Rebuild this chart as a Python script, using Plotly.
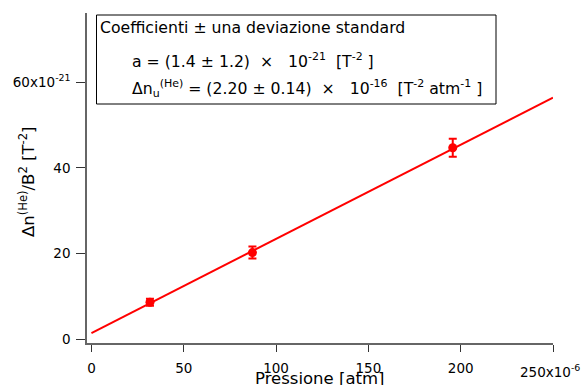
import plotly.graph_objects as go

# Data (x in 1e-6 atm, y in 1e-21 T^-2)
pressure = [31.7, 87.2, 195.7]
dn_over_B2 = [8.6, 20.2, 44.7]
dn_err = [0.8, 1.4, 2.1]

# Fit coefficients (from the legend box): y = a + b*x
fit_a = 1.4        # 1e-21 T^-2
fit_b = 0.220      # 1e-21 T^-2 per 1e-6 atm  (2.20e-16 T^-2 atm^-1)
fit_x = [0, 250]
fit_y = [fit_a + fit_b * x for x in fit_x]

x_tickvals = [0, 50, 100, 150, 200, 250]
x_ticktext = ["0", "50", "100", "150", "200", ""]
y_tickvals = [0, 20, 40, 60]
y_ticktext = ["0", "20", "40", "60x10<sup>-21</sup>"]

box_lines = [
    "Coefficienti ± una deviazione standard",
    "a = (1.4 ± 1.2)  ×   10<sup>-21</sup>  [T<sup>-2</sup> ]",
    "Δn<sub>u</sub><sup>(He)</sup> = (2.20 ± 0.14)  ×   10<sup>-16</sup>  [T<sup>-2</sup> atm<sup>-1</sup> ]",
]

FONT = "DejaVu Sans"
W, H = 583, 385
ML, MR, MT, MB = 87, 30, 13, 42
PW, PH = W - ML - MR, H - MT - MB


def px(x):
    return (x - ML) / PW


def py(y):
    return (H - MB - y) / PH


fig = go.Figure()
fig.add_trace(go.Scatter(x=fit_x, y=fit_y, mode="lines",
                         line=dict(color="#ff0000", width=2), showlegend=False))
fig.add_trace(go.Scatter(x=pressure, y=dn_over_B2, mode="markers",
                         marker=dict(color="#ff0000", size=9),
                         error_y=dict(type="data", array=dn_err, color="#ff0000",
                                      thickness=2, width=4),
                         showlegend=False))

fig.update_layout(
    template="none",
    width=W, height=H,
    margin=dict(l=ML, r=MR, t=MT, b=MB, pad=0),
    paper_bgcolor="white", plot_bgcolor="white",
    font=dict(family=FONT, size=13.5, color="black"),
    xaxis=dict(range=[-2.4, 250], tickvals=x_tickvals, ticktext=x_ticktext,
               showgrid=False, zeroline=False, showline=True, linecolor="#666666",
               linewidth=1.5, ticks="outside", ticklen=7, tickcolor="#333333",
               tickwidth=1, tickfont=dict(size=13.5), automargin=False,
               ticklabelstandoff=5),
    yaxis=dict(range=[-0.93, 76.2], tickvals=y_tickvals, ticktext=y_ticktext,
               showgrid=False, zeroline=False, showline=True, linecolor="#666666",
               linewidth=1.5, ticks="outside", ticklen=9, tickcolor="#333333",
               tickwidth=1, tickfont=dict(size=13.5), automargin=False,
               ticklabelstandoff=3),
)

# axis titles
fig.add_annotation(xref="paper", yref="paper", x=px(320), y=py(367),
                   xanchor="center", yanchor="top", showarrow=False,
                   text="Pressione [atm]", font=dict(size=16.5, family=FONT))
fig.add_annotation(xref="paper", yref="paper", x=px(27), y=py(182),
                   xanchor="center", yanchor="middle", showarrow=False, textangle=-90,
                   text="Δn<sup>(He)</sup>/B<sup>2</sup> [T<sup>-2</sup>]",
                   font=dict(size=16.5, family=FONT))

# last x tick label with exponent
fig.add_annotation(xref="paper", yref="paper", x=px(582), y=py(360),
                   xanchor="right", yanchor="top", showarrow=False,
                   text="250x10<sup>-6</sup>", font=dict(size=13.5, family=FONT))

# coefficient box
fig.add_shape(type="rect", xref="paper", yref="paper",
              x0=px(96.5), x1=px(496), y0=py(104), y1=py(15),
              line=dict(color="black", width=1), fillcolor="white", layer="above")
fig.add_annotation(xref="paper", yref="paper", x=px(98), y=py(28),
                   xanchor="left", yanchor="middle", showarrow=False,
                   text=box_lines[0], font=dict(size=15.7, family=FONT))
fig.add_annotation(xref="paper", yref="paper", x=px(130), y=py(60),
                   xanchor="left", yanchor="middle", showarrow=False,
                   text=box_lines[1], font=dict(size=15.7, family=FONT))
fig.add_annotation(xref="paper", yref="paper", x=px(130), y=py(88),
                   xanchor="left", yanchor="middle", showarrow=False,
                   text=box_lines[2], font=dict(size=15.7, family=FONT))

fig.write_html("out.html", config={"displayModeBar": False})

# remove the browser's default page margin so the figure sits at (0, 0)
with open("out.html", "r", encoding="utf-8") as f:
    html = f.read()
html = html.replace("<head>", "<head><style>html,body{margin:0;padding:0;overflow:hidden;}</style>", 1)
with open("out.html", "w", encoding="utf-8") as f:
    f.write(html)
